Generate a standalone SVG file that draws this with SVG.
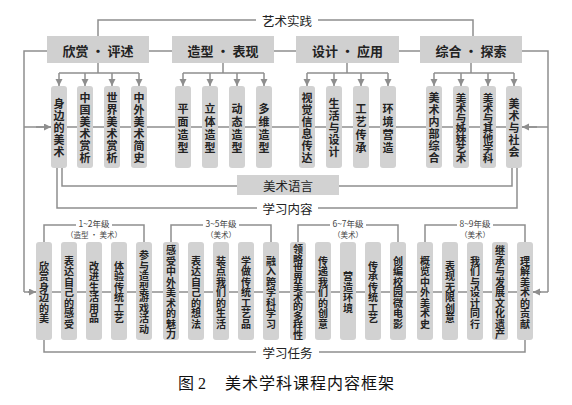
<svg xmlns="http://www.w3.org/2000/svg" width="572" height="405" viewBox="0 0 572 405">
<style>
text{font-family:"Noto Sans CJK SC","Liberation Sans",sans-serif;fill:#222}
.hdr rect{fill:#d0d0d0}
.hdr text{font-size:13px;font-weight:700;text-anchor:middle;dominant-baseline:central}
.sb rect{fill:#d2d2d2}
.v{text-anchor:middle;dominant-baseline:central;font-weight:700}
.t{font-size:11px}
.t7{font-size:10.5px}
.b{font-size:10px}
.lbl{font-size:12.5px;text-anchor:middle;dominant-baseline:central}
.gr{font-size:8.5px;text-anchor:middle;dominant-baseline:central;fill:#444}
.gs{font-size:7.5px;text-anchor:middle;dominant-baseline:central;fill:#444}
.cap{font-family:"Liberation Serif","Noto Sans CJK SC",serif;font-size:16px;fill:#111}
#connectors path{fill:none;stroke:#8e8e8e;stroke-width:1.5}
#connectors .a{marker-end:url(#ah)}
</style>
<defs>
<marker id="ah" markerUnits="userSpaceOnUse" markerWidth="8" markerHeight="8" refX="7" refY="3.5" orient="auto">
<path d="M0,0 L7,3.5 L0,7 z" fill="#8e8e8e"/>
</marker>
</defs>
<rect width="572" height="405" fill="#fff"/>
<g id="connectors">
<path d="M98,36 V20 H256"/>
<path d="M318,20 H473 V36"/>
<path d="M47,51 H24 V292"/>
<path d="M522,51 H548 V292"/>
<path d="M149,51 H172 M274,51 H296 M399,51 H420"/>
<path d="M24,127 H548"/>
<path class="a" d="M36,127 H51"/>
<path class="a" d="M537,127 H522"/>
<path d="M98,63 V73 M59,73 H139"/>
<path class="a" d="M59,73 V86"/><path class="a" d="M85,73 V86"/><path class="a" d="M112,73 V86"/><path class="a" d="M139,73 V86"/>
<path d="M223,63 V73 M183,73 H264"/>
<path class="a" d="M183,73 V86"/><path class="a" d="M210,73 V86"/><path class="a" d="M237,73 V86"/><path class="a" d="M264,73 V86"/>
<path d="M347,63 V73 M307,73 H388"/>
<path class="a" d="M307,73 V86"/><path class="a" d="M334,73 V86"/><path class="a" d="M361,73 V86"/><path class="a" d="M388,73 V86"/>
<path d="M471,63 V73 M434,73 H514"/>
<path class="a" d="M434,73 V86"/><path class="a" d="M461,73 V86"/><path class="a" d="M488,73 V86"/><path class="a" d="M514,73 V86"/>
<path d="M62,168 V186 H237"/>
<path d="M339,186 H512 V168"/>
<path d="M57,168 V208 H257"/>
<path d="M318,208 H517 V168"/>
<path d="M24,292 H548"/>
<path class="a" d="M28,292 H36"/>
<path class="a" d="M541,292 H533"/>
<path d="M44,242 V225 H76 M112,225 H144 V242"/>
<path d="M171,242 V225 H203 M239,225 H271 V242"/>
<path d="M298,242 V225 H330 M366,225 H398 V242"/>
<path d="M425,242 V225 H457 M493,225 H525 V242"/>
<path d="M44,340 V352 H256"/>
<path d="M319,352 H525 V340"/>
</g>
<g id="label-yishushijian"><text class="lbl" x="287" y="20">艺术实践</text></g>
<g id="h1" class="hdr"><rect x="47" y="36" width="102" height="27"/><text x="98" y="50">欣赏 · 评述</text></g>
<g id="h2" class="hdr"><rect x="172" y="36" width="102" height="27"/><text x="223" y="50">造型 · 表现</text></g>
<g id="h3" class="hdr"><rect x="296" y="36" width="103" height="27"/><text x="347.5" y="50">设计 · 应用</text></g>
<g id="h4" class="hdr"><rect x="420" y="36" width="102" height="27"/><text x="471" y="50">综合 · 探索</text></g>
<g id="c1" class="sb"><rect x="51" y="86" width="16" height="82" rx="3"/><text class="v t"><tspan x="59" y="103">身</tspan><tspan x="59" y="115">边</tspan><tspan x="59" y="127">的</tspan><tspan x="59" y="139">美</tspan><tspan x="59" y="151">术</tspan></text></g>
<g id="c2" class="sb"><rect x="77" y="86" width="16" height="82" rx="3"/><text class="v t"><tspan x="85" y="97">中</tspan><tspan x="85" y="109">国</tspan><tspan x="85" y="121">美</tspan><tspan x="85" y="133">术</tspan><tspan x="85" y="145">赏</tspan><tspan x="85" y="157">析</tspan></text></g>
<g id="c3" class="sb"><rect x="104" y="86" width="16" height="82" rx="3"/><text class="v t"><tspan x="112" y="97">世</tspan><tspan x="112" y="109">界</tspan><tspan x="112" y="121">美</tspan><tspan x="112" y="133">术</tspan><tspan x="112" y="145">赏</tspan><tspan x="112" y="157">析</tspan></text></g>
<g id="c4" class="sb"><rect x="131" y="86" width="16" height="82" rx="3"/><text class="v t"><tspan x="139" y="97">中</tspan><tspan x="139" y="109">外</tspan><tspan x="139" y="121">美</tspan><tspan x="139" y="133">术</tspan><tspan x="139" y="145">简</tspan><tspan x="139" y="157">史</tspan></text></g>
<g id="c5" class="sb"><rect x="175" y="86" width="16" height="82" rx="3"/><text class="v t"><tspan x="183" y="107.5">平</tspan><tspan x="183" y="120.5">面</tspan><tspan x="183" y="133.5">造</tspan><tspan x="183" y="146.5">型</tspan></text></g>
<g id="c6" class="sb"><rect x="202" y="86" width="16" height="82" rx="3"/><text class="v t"><tspan x="210" y="107.5">立</tspan><tspan x="210" y="120.5">体</tspan><tspan x="210" y="133.5">造</tspan><tspan x="210" y="146.5">型</tspan></text></g>
<g id="c7" class="sb"><rect x="229" y="86" width="16" height="82" rx="3"/><text class="v t"><tspan x="237" y="107.5">动</tspan><tspan x="237" y="120.5">态</tspan><tspan x="237" y="133.5">造</tspan><tspan x="237" y="146.5">型</tspan></text></g>
<g id="c8" class="sb"><rect x="256" y="86" width="16" height="82" rx="3"/><text class="v t"><tspan x="264" y="107.5">多</tspan><tspan x="264" y="120.5">维</tspan><tspan x="264" y="133.5">造</tspan><tspan x="264" y="146.5">型</tspan></text></g>
<g id="c9" class="sb"><rect x="299" y="86" width="16" height="82" rx="3"/><text class="v t"><tspan x="307" y="97">视</tspan><tspan x="307" y="109">觉</tspan><tspan x="307" y="121">信</tspan><tspan x="307" y="133">息</tspan><tspan x="307" y="145">传</tspan><tspan x="307" y="157">达</tspan></text></g>
<g id="c10" class="sb"><rect x="326" y="86" width="16" height="82" rx="3"/><text class="v t"><tspan x="334" y="103">生</tspan><tspan x="334" y="115">活</tspan><tspan x="334" y="127">与</tspan><tspan x="334" y="139">设</tspan><tspan x="334" y="151">计</tspan></text></g>
<g id="c11" class="sb"><rect x="353" y="86" width="16" height="82" rx="3"/><text class="v t"><tspan x="361" y="107.5">工</tspan><tspan x="361" y="120.5">艺</tspan><tspan x="361" y="133.5">传</tspan><tspan x="361" y="146.5">承</tspan></text></g>
<g id="c12" class="sb"><rect x="380" y="86" width="16" height="82" rx="3"/><text class="v t"><tspan x="388" y="107.5">环</tspan><tspan x="388" y="120.5">境</tspan><tspan x="388" y="133.5">营</tspan><tspan x="388" y="146.5">造</tspan></text></g>
<g id="c13" class="sb"><rect x="426" y="86" width="16" height="82" rx="3"/><text class="v t"><tspan x="434" y="97">美</tspan><tspan x="434" y="109">术</tspan><tspan x="434" y="121">内</tspan><tspan x="434" y="133">部</tspan><tspan x="434" y="145">综</tspan><tspan x="434" y="157">合</tspan></text></g>
<g id="c14" class="sb"><rect x="453" y="86" width="16" height="82" rx="3"/><text class="v t7"><tspan x="461" y="97">美</tspan><tspan x="461" y="107">术</tspan><tspan x="461" y="117">与</tspan><tspan x="461" y="127">姊</tspan><tspan x="461" y="137">妹</tspan><tspan x="461" y="147">艺</tspan><tspan x="461" y="157">术</tspan></text></g>
<g id="c15" class="sb"><rect x="480" y="86" width="16" height="82" rx="3"/><text class="v t7"><tspan x="488" y="97">美</tspan><tspan x="488" y="107">术</tspan><tspan x="488" y="117">与</tspan><tspan x="488" y="127">其</tspan><tspan x="488" y="137">他</tspan><tspan x="488" y="147">学</tspan><tspan x="488" y="157">科</tspan></text></g>
<g id="c16" class="sb"><rect x="506" y="86" width="16" height="82" rx="3"/><text class="v t"><tspan x="514" y="103">美</tspan><tspan x="514" y="115">术</tspan><tspan x="514" y="127">与</tspan><tspan x="514" y="139">社</tspan><tspan x="514" y="151">会</tspan></text></g>
<g id="meishuyuyan" class="sb"><rect x="237" y="175" width="102" height="20"/><text class="lbl" x="288" y="185">美术语言</text></g>
<g id="label-xuexineirong"><text class="lbl" x="287.5" y="208">学习内容</text></g>
<g id="g12"><text class="gr" x="94" y="222.5">1~2年级</text><text class="gs" x="94" y="234">（造型 · 美术）</text></g>
<g id="g35"><text class="gr" x="221" y="222.5">3~5年级</text><text class="gs" x="221" y="234">（美术）</text></g>
<g id="g67"><text class="gr" x="348" y="222.5">6~7年级</text><text class="gs" x="348" y="234">（美术）</text></g>
<g id="g89"><text class="gr" x="475" y="222.5">8~9年级</text><text class="gs" x="475" y="234">（美术）</text></g>
<g id="t1" class="sb"><rect x="36" y="242" width="16" height="98" rx="3"/><text class="v b"><tspan x="44" y="264.75">欣</tspan><tspan x="44" y="275.25">赏</tspan><tspan x="44" y="285.75">身</tspan><tspan x="44" y="296.25">边</tspan><tspan x="44" y="306.75">的</tspan><tspan x="44" y="317.25">美</tspan></text></g>
<g id="t2" class="sb"><rect x="61" y="242" width="16" height="98" rx="3"/><text class="v b"><tspan x="69" y="259.5">表</tspan><tspan x="69" y="270">达</tspan><tspan x="69" y="280.5">自</tspan><tspan x="69" y="291">己</tspan><tspan x="69" y="301.5">的</tspan><tspan x="69" y="312">感</tspan><tspan x="69" y="322.5">受</tspan></text></g>
<g id="t3" class="sb"><rect x="86" y="242" width="16" height="98" rx="3"/><text class="v b"><tspan x="94" y="264.75">改</tspan><tspan x="94" y="275.25">进</tspan><tspan x="94" y="285.75">生</tspan><tspan x="94" y="296.25">活</tspan><tspan x="94" y="306.75">用</tspan><tspan x="94" y="317.25">品</tspan></text></g>
<g id="t4" class="sb"><rect x="111" y="242" width="16" height="98" rx="3"/><text class="v b"><tspan x="119" y="264.75">体</tspan><tspan x="119" y="275.25">验</tspan><tspan x="119" y="285.75">传</tspan><tspan x="119" y="296.25">统</tspan><tspan x="119" y="306.75">工</tspan><tspan x="119" y="317.25">艺</tspan></text></g>
<g id="t5" class="sb"><rect x="136" y="242" width="16" height="98" rx="3"/><text class="v b"><tspan x="144" y="254.25">参</tspan><tspan x="144" y="264.75">与</tspan><tspan x="144" y="275.25">造</tspan><tspan x="144" y="285.75">型</tspan><tspan x="144" y="296.25">游</tspan><tspan x="144" y="306.75">戏</tspan><tspan x="144" y="317.25">活</tspan><tspan x="144" y="327.75">动</tspan></text></g>
<g id="t6" class="sb"><rect x="163" y="242" width="16" height="98" rx="3"/><text class="v b"><tspan x="171" y="249">感</tspan><tspan x="171" y="259.5">受</tspan><tspan x="171" y="270">中</tspan><tspan x="171" y="280.5">外</tspan><tspan x="171" y="291">美</tspan><tspan x="171" y="301.5">术</tspan><tspan x="171" y="312">的</tspan><tspan x="171" y="322.5">魅</tspan><tspan x="171" y="333">力</tspan></text></g>
<g id="t7" class="sb"><rect x="188" y="242" width="16" height="98" rx="3"/><text class="v b"><tspan x="196" y="259.5">表</tspan><tspan x="196" y="270">达</tspan><tspan x="196" y="280.5">自</tspan><tspan x="196" y="291">己</tspan><tspan x="196" y="301.5">的</tspan><tspan x="196" y="312">想</tspan><tspan x="196" y="322.5">法</tspan></text></g>
<g id="t8" class="sb"><rect x="213" y="242" width="16" height="98" rx="3"/><text class="v b"><tspan x="221" y="259.5">装</tspan><tspan x="221" y="270">点</tspan><tspan x="221" y="280.5">我</tspan><tspan x="221" y="291">们</tspan><tspan x="221" y="301.5">的</tspan><tspan x="221" y="312">生</tspan><tspan x="221" y="322.5">活</tspan></text></g>
<g id="t9" class="sb"><rect x="238" y="242" width="16" height="98" rx="3"/><text class="v b"><tspan x="246" y="259.5">学</tspan><tspan x="246" y="270">做</tspan><tspan x="246" y="280.5">传</tspan><tspan x="246" y="291">统</tspan><tspan x="246" y="301.5">工</tspan><tspan x="246" y="312">艺</tspan><tspan x="246" y="322.5">品</tspan></text></g>
<g id="t10" class="sb"><rect x="263" y="242" width="16" height="98" rx="3"/><text class="v b"><tspan x="271" y="259.5">融</tspan><tspan x="271" y="270">入</tspan><tspan x="271" y="280.5">跨</tspan><tspan x="271" y="291">学</tspan><tspan x="271" y="301.5">科</tspan><tspan x="271" y="312">学</tspan><tspan x="271" y="322.5">习</tspan></text></g>
<g id="t11" class="sb"><rect x="290" y="242" width="16" height="98" rx="3"/><text class="v b"><tspan x="298" y="248.25">领</tspan><tspan x="298" y="257.75">略</tspan><tspan x="298" y="267.25">世</tspan><tspan x="298" y="276.75">界</tspan><tspan x="298" y="286.25">美</tspan><tspan x="298" y="295.75">术</tspan><tspan x="298" y="305.25">的</tspan><tspan x="298" y="314.75">多</tspan><tspan x="298" y="324.25">样</tspan><tspan x="298" y="333.75">性</tspan></text></g>
<g id="t12" class="sb"><rect x="315" y="242" width="16" height="98" rx="3"/><text class="v b"><tspan x="323" y="259.5">传</tspan><tspan x="323" y="270">递</tspan><tspan x="323" y="280.5">我</tspan><tspan x="323" y="291">们</tspan><tspan x="323" y="301.5">的</tspan><tspan x="323" y="312">创</tspan><tspan x="323" y="322.5">意</tspan></text></g>
<g id="t13" class="sb"><rect x="340" y="242" width="16" height="98" rx="3"/><text class="v b"><tspan x="348" y="275.25">营</tspan><tspan x="348" y="285.75">造</tspan><tspan x="348" y="296.25">环</tspan><tspan x="348" y="306.75">境</tspan></text></g>
<g id="t14" class="sb"><rect x="365" y="242" width="16" height="98" rx="3"/><text class="v b"><tspan x="373" y="264.75">传</tspan><tspan x="373" y="275.25">承</tspan><tspan x="373" y="285.75">传</tspan><tspan x="373" y="296.25">统</tspan><tspan x="373" y="306.75">工</tspan><tspan x="373" y="317.25">艺</tspan></text></g>
<g id="t15" class="sb"><rect x="390" y="242" width="16" height="98" rx="3"/><text class="v b"><tspan x="398" y="259.5">创</tspan><tspan x="398" y="270">编</tspan><tspan x="398" y="280.5">校</tspan><tspan x="398" y="291">园</tspan><tspan x="398" y="301.5">微</tspan><tspan x="398" y="312">电</tspan><tspan x="398" y="322.5">影</tspan></text></g>
<g id="t16" class="sb"><rect x="417" y="242" width="16" height="98" rx="3"/><text class="v b"><tspan x="425" y="259.5">概</tspan><tspan x="425" y="270">览</tspan><tspan x="425" y="280.5">中</tspan><tspan x="425" y="291">外</tspan><tspan x="425" y="301.5">美</tspan><tspan x="425" y="312">术</tspan><tspan x="425" y="322.5">史</tspan></text></g>
<g id="t17" class="sb"><rect x="442" y="242" width="16" height="98" rx="3"/><text class="v b"><tspan x="450" y="264.75">表</tspan><tspan x="450" y="275.25">现</tspan><tspan x="450" y="285.75">无</tspan><tspan x="450" y="296.25">限</tspan><tspan x="450" y="306.75">创</tspan><tspan x="450" y="317.25">意</tspan></text></g>
<g id="t18" class="sb"><rect x="467" y="242" width="16" height="98" rx="3"/><text class="v b"><tspan x="475" y="259.5">我</tspan><tspan x="475" y="270">们</tspan><tspan x="475" y="280.5">与</tspan><tspan x="475" y="291">设</tspan><tspan x="475" y="301.5">计</tspan><tspan x="475" y="312">同</tspan><tspan x="475" y="322.5">行</tspan></text></g>
<g id="t19" class="sb"><rect x="492" y="242" width="16" height="98" rx="3"/><text class="v b"><tspan x="500" y="249">继</tspan><tspan x="500" y="259.5">承</tspan><tspan x="500" y="270">与</tspan><tspan x="500" y="280.5">发</tspan><tspan x="500" y="291">展</tspan><tspan x="500" y="301.5">文</tspan><tspan x="500" y="312">化</tspan><tspan x="500" y="322.5">遗</tspan><tspan x="500" y="333">产</tspan></text></g>
<g id="t20" class="sb"><rect x="517" y="242" width="16" height="98" rx="3"/><text class="v b"><tspan x="525" y="259.5">理</tspan><tspan x="525" y="270">解</tspan><tspan x="525" y="280.5">美</tspan><tspan x="525" y="291">术</tspan><tspan x="525" y="301.5">的</tspan><tspan x="525" y="312">贡</tspan><tspan x="525" y="322.5">献</tspan></text></g>
<g id="label-xuexirenwu"><text class="lbl" x="287.5" y="352">学习任务</text></g>
<g id="caption"><text class="cap" y="389"><tspan x="178">图 2</tspan><tspan x="225" style="letter-spacing:1px">美术学科课程内容框架</tspan></text></g>
</svg>
